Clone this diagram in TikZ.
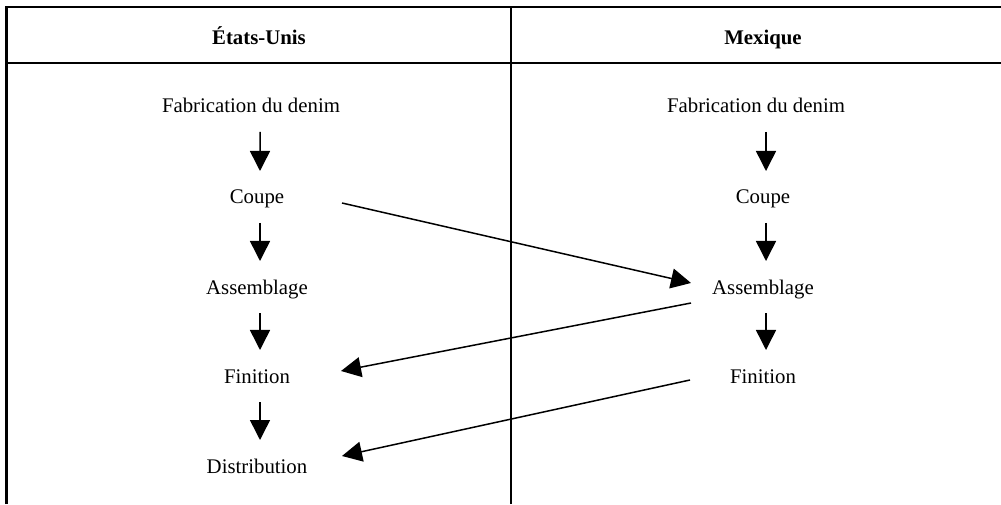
\documentclass[tikz,border=0pt]{standalone}
\usepackage{fontspec}
\setmainfont{Liberation Serif}
\usetikzlibrary{arrows.meta,calc}

\begin{document}
\begin{tikzpicture}[x=50pt,y=50pt,
  lbl/.style={inner sep=0pt,anchor=base,font=\fontsize{10.4}{12}\selectfont},
  hdr/.style={lbl,font=\fontsize{10.4}{12}\selectfont\bfseries},
  flow/.style={line width=0.75pt,-{Triangle[length=10pt,width=10pt]}}]
 \useasboundingbox (0,0) rectangle (10.01,5.04);
 % table frame
 \begin{scope}[line width=1.1pt]
  \draw (0.065,0) -- (0.065,4.97) -- (10.01,4.97);
  \draw (0.065,4.41) -- (10.01,4.41);
  \draw (5.11,0) -- (5.11,4.97);
 \end{scope}
 % headers
 \node[hdr] (hUS) at (2.59,4.59) {États-Unis};
 \node[hdr] (hMX) at (7.63,4.59) {Mexique};
 % Etats-Unis column
 \node[lbl] (fbUS) at (2.51,3.91) {Fabrication du denim};
 \node[lbl] (cpUS) at (2.57,3.00) {Coupe};
 \node[lbl] (asUS) at (2.57,2.10) {Assemblage};
 \node[lbl] (fiUS) at (2.57,1.21) {Finition};
 \node[lbl] (diUS) at (2.57,0.31) {Distribution};
 % Mexique column
 \node[lbl] (fbMX) at (7.56,3.91) {Fabrication du denim};
 \node[lbl] (cpMX) at (7.63,3.00) {Coupe};
 \node[lbl] (asMX) at (7.63,2.10) {Assemblage};
 \node[lbl] (fiMX) at (7.63,1.21) {Finition};
 % steps inside each column
 \foreach \a/\b in {cpUS/asUS,asUS/fiUS,fiUS/diUS,cpMX/asMX,asMX/fiMX}
  \draw[flow] ($(\a.base)+(.03,-.19)$) -- ($(\b.base)+(.03,.33)$);
 \draw[flow] ($(fbUS.base)+(.09,-.19)$) -- ($(cpUS.base)+(.03,.33)$);
 \draw[flow] ($(fbMX.base)+(.10,-.19)$) -- ($(cpMX.base)+(.03,.33)$);
 % moves between the two countries
 \draw[flow] ($(cpUS.base)+(.85,.01)$) -- ($(asMX.base)+(-.72,.11)$);
 \draw[flow] ($(asMX.base)+(-.72,-.09)$) -- ($(fiUS.base)+(.84,.12)$);
 \draw[flow] ($(fiMX.base)+(-.73,.03)$) -- ($(diUS.base)+(.85,.17)$);
\end{tikzpicture}
\end{document}
